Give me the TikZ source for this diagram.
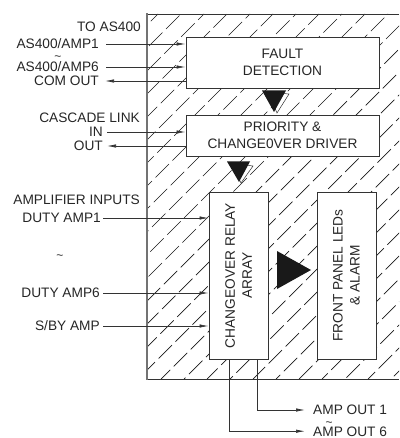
\documentclass[tikz,border=0pt]{standalone}
\usepackage{fontspec}
\setmainfont{Liberation Sans}
\usetikzlibrary{arrows.meta,calc}
\begin{document}
\begin{tikzpicture}[x=1pt,y=-1pt,
  lbl/.style={inner sep=0pt,text height=9.8pt,text depth=0pt,font=\fontsize{13.7}{17}\selectfont,text=black!85},
  tld/.style={inner sep=0pt,text height=5pt,text depth=0pt,font=\fontsize{12}{12}\selectfont,text=black!85},
  box/.style={draw=black!80,line width=0.9pt,fill=white,inner sep=0pt,align=center,font=\fontsize{13.7}{17}\selectfont,text=black!85},
  rtxt/.style={inner sep=0pt,align=center,rotate=90,font=\fontsize{13.7}{17}\selectfont,text=black!85},
  arr/.style={draw=black!80,line width=0.7pt,-{Latex[length=9pt,width=3.4pt]}},
  hatch/.style={draw=black!90,line width=0.7pt}]
\useasboundingbox (0,0) rectangle (399,438);
% hatched housing
\begin{scope}
  \clip (147,14) rectangle (399,379);
  \foreach \i [count=\k] in {-230,-207,...,400} {
    \pgfmathsetmacro\ph{mod(\k*11,24)}
    \draw[hatch,dash pattern=on 19pt off 5pt,dash phase=\ph pt] (\i,379) -- ++(365,-365);
  }
\end{scope}
\draw[black!80,line width=0.9pt] (399,14) -- (147,14);
\draw[black!80,line width=0.9pt] (147,379) -- (399,379);
\draw[black!55,line width=1.5pt] (147,13.5) -- (147,379.5);
% boxes
\node[box,minimum width=193pt,minimum height=51pt] (fault) at (282.5,62.5) {FAULT\\DETECTION};
\node[box,minimum width=193pt,minimum height=41pt] (prio) at (282.5,135.5) {PRIORITY \&\\CHANGE0VER DRIVER};
\node[box,minimum width=59pt,minimum height=167pt] (relay) at (238.5,275.5) {};
\node[rtxt] (relaytxt) at (relay.center) {CHANGEOVER RELAY\\ARRAY};
\node[box,minimum width=59pt,minimum height=167pt] (panel) at (346.5,275.5) {};
\node[rtxt] (paneltxt) at (panel.center) {FRONT PANEL LEDs\\\& ALARM};
% internal flow triangles
\filldraw[fill=white,draw=black!80,line width=0.5pt] (268,92) -- (289,94) -- (277,113) -- cycle;
\fill[black!90] (262,90.5) -- (286,90.5) -- (274,112) -- cycle;
\filldraw[fill=white,draw=black!80,line width=0.5pt] (231,163) -- (253,166) -- (241,183) -- cycle;
\fill[black!90] (227,161.5) -- (250,161.5) -- (239,182) -- cycle;
\fill[black!90] (277,251) -- (277,289) -- (311,270) -- cycle;
% left labels
\node[lbl,anchor=east] (toas) at (141,27) {TO AS400};
\node[lbl,anchor=east] (a1) at (99,44) {AS400/AMP1};
\node[tld] (t1) at (58,58) {\textasciitilde};
\node[lbl,anchor=east] (a6) at (99,67) {AS400/AMP6};
\node[lbl,anchor=east] (com) at (99,81) {COM OUT};
\node[lbl,anchor=east] (casc) at (140,118) {CASCADE LINK};
\node[lbl,anchor=east] (cin) at (103,132) {IN};
\node[lbl,anchor=east] (cout) at (103,146) {OUT};
\node[lbl,anchor=east] (ampin) at (140,200) {AMPLIFIER INPUTS};
\node[lbl,anchor=east] (d1) at (101,218) {DUTY AMP1};
\node[tld] (t2) at (60,257) {\textasciitilde};
\node[lbl,anchor=east] (d6) at (100,293) {DUTY AMP6};
\node[lbl,anchor=east] (sby) at (100,326) {S/BY AMP};
% outputs
\node[lbl,anchor=west] (o1) at (313,410) {AMP OUT 1};
\node[tld] (t3) at (329,423.5) {\textasciitilde};
\node[lbl,anchor=west] (o6) at (313,431.2) {AMP OUT 6};
% connectors
\draw[arr] ([xshift=7pt]a1.east) -- (a1.east -| fault.west);
\draw[arr] ([xshift=7pt]a6.east) -- (a6.east -| fault.west);
\draw[arr] (com.east -| fault.west) -- ([xshift=6pt]com.east);
\draw[arr] ([xshift=4pt]cin.east) -- (cin.east -| prio.west);
\draw[arr] (cout.east -| prio.west) -- ([xshift=4pt]cout.east);
\draw[arr] ([xshift=2pt]d1.east) -- (d1.east -| relay.west);
\draw[arr] ([xshift=3pt]d6.east) -- (d6.east -| relay.west);
\draw[arr] ([xshift=3pt]sby.east) -- (sby.east -| relay.west);
\draw[arr] ([xshift=18.5pt]relay.south) |- ([xshift=-8pt]o1.west);
\draw[arr] ([xshift=-9.5pt]relay.south) |- ([xshift=-8pt]o6.west);
\end{tikzpicture}
\end{document}
